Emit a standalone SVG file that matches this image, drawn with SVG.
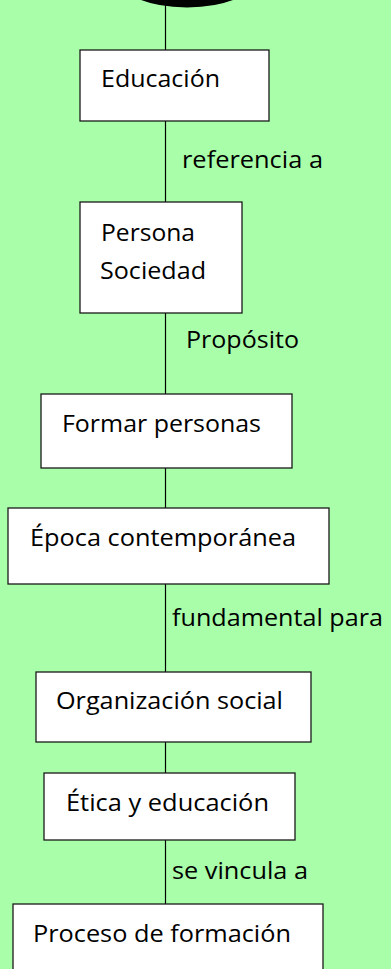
<svg xmlns="http://www.w3.org/2000/svg" width="391" height="969" viewBox="0 0 391 969">
<style>
.bg{fill:#A9FFA9}
.box{fill:#FFFFFF;stroke:#1A1A1A;stroke-width:1.3}
.ln{stroke:#000;stroke-width:1.2;fill:none}
text{font-family:"Open Sans","Noto Sans","Liberation Sans",sans-serif;font-size:24px;fill:#000}
</style>
<rect class="bg" x="0" y="0" width="391" height="969"/>
<g id="connectors">
<line class="ln" x1="165.5" y1="0" x2="165.5" y2="50"/>
<line class="ln" x1="165.5" y1="121" x2="165.5" y2="202"/>
<line class="ln" x1="165.5" y1="313" x2="165.5" y2="394"/>
<line class="ln" x1="165.5" y1="468" x2="165.5" y2="508"/>
<line class="ln" x1="165.5" y1="584" x2="165.5" y2="672"/>
<line class="ln" x1="165.5" y1="742" x2="165.5" y2="773"/>
<line class="ln" x1="165.5" y1="840" x2="165.5" y2="904"/>
<text x="182" y="168" textLength="141" lengthAdjust="spacingAndGlyphs">referencia a</text>
<text x="186" y="348" textLength="113" lengthAdjust="spacingAndGlyphs">Propósito</text>
<text x="172" y="626" textLength="211" lengthAdjust="spacingAndGlyphs">fundamental para</text>
<text x="172" y="879" textLength="136" lengthAdjust="spacingAndGlyphs">se vincula a</text>
</g>
<g id="start">
<ellipse cx="187" cy="-25" rx="72" ry="32.5" fill="#000"/>
</g>
<g id="n1">
<rect class="box" x="80" y="50" width="189" height="71"/>
<text x="101" y="87" textLength="119" lengthAdjust="spacingAndGlyphs">Educación</text>
</g>
<g id="n2">
<rect class="box" x="80" y="202" width="162" height="111"/>
<text x="101" y="241" textLength="94" lengthAdjust="spacingAndGlyphs">Persona</text>
<text x="100" y="279" textLength="106" lengthAdjust="spacingAndGlyphs">Sociedad</text>
</g>
<g id="n3">
<rect class="box" x="41" y="394" width="251" height="74"/>
<text x="62" y="432" textLength="199" lengthAdjust="spacingAndGlyphs">Formar personas</text>
</g>
<g id="n4">
<rect class="box" x="8" y="508" width="321" height="76"/>
<text x="30" y="546" textLength="266" lengthAdjust="spacingAndGlyphs">Época contemporánea</text>
</g>
<g id="n5">
<rect class="box" x="36" y="672" width="275" height="70"/>
<text x="56" y="709" textLength="227" lengthAdjust="spacingAndGlyphs">Organización social</text>
</g>
<g id="n6">
<rect class="box" x="44" y="773" width="251" height="67"/>
<text x="66" y="811" textLength="203" lengthAdjust="spacingAndGlyphs">Ética y educación</text>
</g>
<g id="n7">
<rect class="box" x="13" y="904" width="310" height="80"/>
<text x="33" y="942" textLength="258" lengthAdjust="spacingAndGlyphs">Proceso de formación</text>
</g>
</svg>
